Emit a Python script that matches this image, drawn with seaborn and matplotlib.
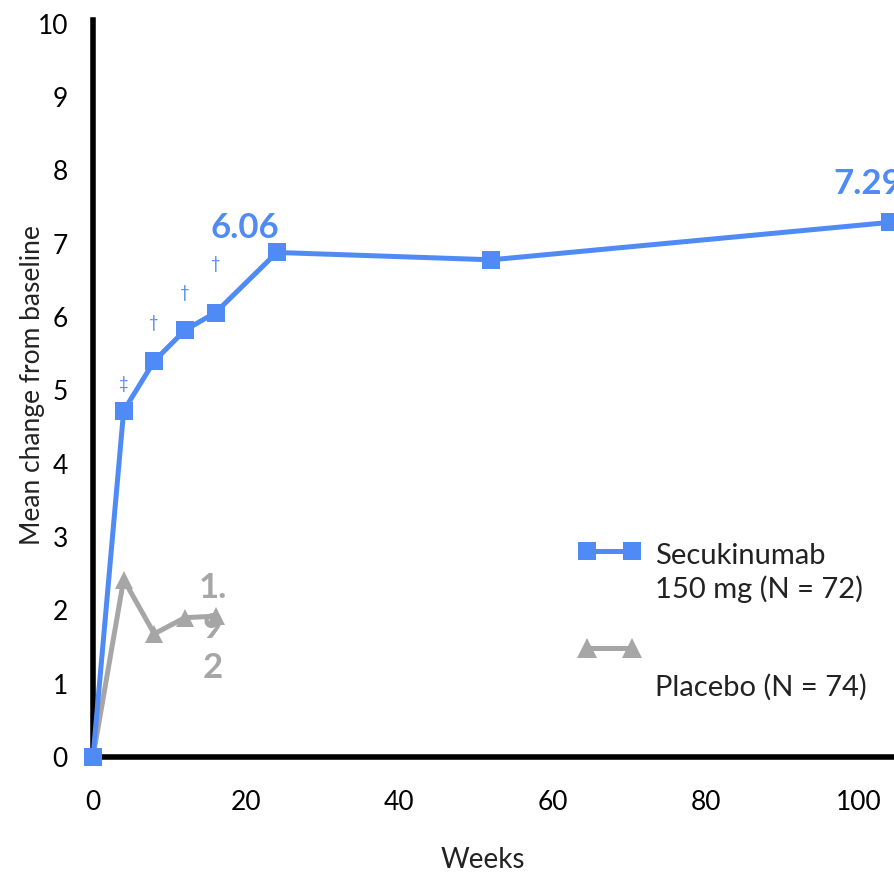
import numpy as np
import pandas as pd
import matplotlib
matplotlib.use("Agg")
import matplotlib.pyplot as plt
import seaborn as sns
from matplotlib.lines import Line2D

# Mean change from baseline by week
secu_weeks = [0, 4, 8, 12, 16, 24, 52, 104]
secu_values = [0.0, 4.72, 5.40, 5.82, 6.06, 6.88, 6.78, 7.29]
placebo_weeks = [0, 4, 8, 12, 16]
placebo_values = [0.0, 2.42, 1.68, 1.90, 1.92]

secu_label = "Secukinumab\n150 mg (N = 72)"
placebo_label = "Placebo (N = 74)"
x_ticks = [0, 20, 40, 60, 80, 100]
y_ticks = list(range(0, 11))

# significance marks on the secukinumab series (week, symbol)
sig_weeks = [4, 8, 12, 16]
sig_marks = ["‡", "†", "†", "†"]

BLUE = "#4F8AF5"
GREY = "#A6A6A6"

df = pd.concat([
    pd.DataFrame({"week": secu_weeks, "change": secu_values, "group": "Secukinumab"}),
    pd.DataFrame({"week": placebo_weeks, "change": placebo_values, "group": "Placebo"}),
])

sns.set_theme(style="white")
plt.rcParams["font.family"] = ["Lato", "DejaVu Sans"]

W, H = 895, 877
fig = plt.figure(figsize=(W / 100, H / 100), dpi=100)
ax = fig.add_axes([93 / W, (H - 757) / H, (W - 93) / W, (757 - 20) / H])

sns.lineplot(
    data=df, x="week", y="change", hue="group", style="group",
    palette={"Secukinumab": BLUE, "Placebo": GREY},
    markers={"Secukinumab": "s", "Placebo": "^"}, dashes=False,
    linewidth=3.6, markersize=13, markeredgewidth=0,
    legend=False, ax=ax, sort=False,
)
for ln in ax.lines:
    ln.set_clip_on(False)
    ln.set_zorder(5)
# draw the blue series above the grey one
ax.lines[0].set_zorder(6)

ax.set_xlim(0, 104.7)
ax.set_ylim(0, 10.05)
ax.set_xticks(x_ticks)
ax.set_yticks(y_ticks)
ax.tick_params(axis="both", labelsize=19, colors="black", length=10, width=3.5,
               direction="out", pad=8)
ax.tick_params(axis="x", pad=14)
for s in ["top", "right"]:
    ax.spines[s].set_visible(False)
for s in ["left", "bottom"]:
    ax.spines[s].set_linewidth(4)
    ax.spines[s].set_color("black")
    ax.spines[s].set_zorder(3)
ax.grid(False)

ax.set_xlabel("Weeks", fontsize=20, color="#222222")
ax.set_ylabel("Mean change from baseline", fontsize=19, color="#222222")
ax.xaxis.set_label_coords(0.486, -0.122)
ax.yaxis.set_label_coords(-0.06, 0.505)

# significance symbols above the early secukinumab points
sig_offsets = [27, 38, 37, 49]
for wk, sym, off in zip(sig_weeks, sig_marks, sig_offsets):
    yv = secu_values[secu_weeks.index(wk)]
    ax.annotate(sym, (wk, yv), xytext=(0, off), textcoords="offset pixels",
                ha="center", va="center", fontsize=12, color=BLUE)

# value labels
ax.annotate(f"{secu_values[4]:.2f}", (secu_weeks[4], secu_values[4]),
            xytext=(29, 85), textcoords="offset pixels", ha="center", va="center",
            fontsize=25, fontweight="bold", color=BLUE, annotation_clip=False)
ax.annotate(f"{secu_values[-1]:.2f}", (secu_weeks[-1], secu_values[-1]),
            xytext=(-22, 38), textcoords="offset pixels", ha="center", va="center",
            fontsize=25, fontweight="bold", color=BLUE, annotation_clip=False)
ax.annotate("1.\n9\n2", (placebo_weeks[-1], placebo_values[-1]),
            xytext=(-3, -12), textcoords="offset pixels", ha="center", va="center",
            fontsize=25, fontweight="bold", color=GREY, linespacing=1.3)

# legend drawn as line segments with end markers
def px(x, y):
    return x / W, 1 - y / H

for (y, col, mk, ms) in [(551, BLUE, "s", 13), (648, GREY, "^", 14)]:
    x0, y0 = px(587, y)
    x1, _ = px(632, y)
    fig.add_artist(Line2D([x0, x1], [y0, y0], color=col, lw=3.6, marker=mk,
                          markersize=ms, markeredgewidth=0,
                          transform=fig.transFigure))

tx, ty = px(655, 573)
fig.text(tx, ty, secu_label, fontsize=21, va="center", ha="left",
         color="#222222", linespacing=1.3)
tx, ty = px(655, 687)
fig.text(tx, ty, placebo_label, fontsize=21, va="center", ha="left", color="#222222")

fig.savefig("out.png", dpi=100)
